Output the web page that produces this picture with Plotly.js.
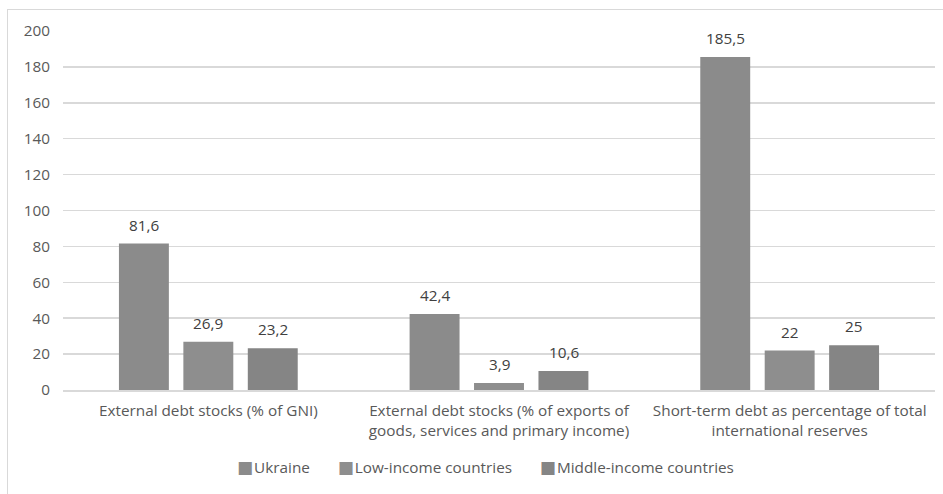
<!DOCTYPE html>
<html>
<head>
<meta charset="utf-8">
<script src="https://cdn.plot.ly/plotly-3.0.1.min.js"></script>
<style>
  html, body { margin: 0; padding: 0; background: #fff; }
  #wrap { position: relative; width: 943px; height: 494px; overflow: hidden; }
  #chart { width: 943px; height: 494px; }
  #frame { position: absolute; left: 7px; top: 9px; width: 945px; height: 495px; border: 1.5px solid #d9d9d9; pointer-events: none; box-sizing: border-box; }
</style>
</head>
<body>
<div id="wrap">
  <div id="chart"></div>
  <div id="frame"></div>
</div>
<script>
const categories = [
  "External debt stocks (% of GNI)",
  "External debt stocks (% of exports of<br>goods, services and primary income)",
  "Short-term debt as percentage of total<br>international reserves"
];
const seriesNames = ["Ukraine", "Low-income countries", "Middle-income countries"];
const ukraine = [81.6, 42.4, 185.5];
const lowIncome = [26.9, 3.9, 22];
const middleIncome = [23.2, 10.6, 25];
const seriesColors = ["#8b8b8b", "#8e8e8e", "#858585"];
const yTicks = [0, 20, 40, 60, 80, 100, 120, 140, 160, 180, 200];

const FONT = "Open Sans, sans-serif";
const FS = 15.3;
const fmt = v => String(v).replace(".", ",");
const allSeries = [ukraine, lowIncome, middleIncome];
const labelShift = [-64.5, 0, 64.5];

const traces = allSeries.map((vals, i) => ({
  type: "bar",
  name: seriesNames[i],
  x: categories,
  y: vals,
  marker: { color: seriesColors[i] },
  hoverinfo: "skip",
  showlegend: false
}));

const annotations = [];
allSeries.forEach((vals, i) => {
  vals.forEach((v, j) => {
    annotations.push({
      x: categories[j], y: v, xref: "x", yref: "y",
      text: fmt(v), showarrow: false,
      xshift: labelShift[i], yshift: 19,
      yanchor: "middle", xanchor: "center",
      font: { family: FONT, size: FS, color: "#404040" }
    });
  });
});

// legend row built from the series names and colours
const legendText = seriesNames.map((n, i) =>
  '<span style="color:' + seriesColors[i] + ';font-size:17px;font-family:DejaVu Sans">■</span>' +
  '<span style="font-size:4px">&nbsp;</span>' + n
).join('&nbsp;&nbsp;&nbsp;&nbsp;&nbsp;&nbsp;&nbsp;');
annotations.push({
  x: 0.485, y: -0.215, xref: "paper", yref: "paper",
  xanchor: "center", yanchor: "middle", showarrow: false,
  text: legendText,
  font: { family: FONT, size: FS, color: "#595959" }
});

const layout = {
  width: 943,
  height: 494,
  margin: { l: 63, r: 8, t: 31, b: 104 },
  paper_bgcolor: "#ffffff",
  plot_bgcolor: "#ffffff",
  font: { family: FONT, size: FS, color: "#595959" },
  barmode: "group",
  bargap: 0.335,
  bargroupgap: 0.225,
  showlegend: false,
  annotations: annotations,
  xaxis: {
    type: "category",
    showgrid: false,
    showline: true,
    linecolor: "#d9d9d9",
    linewidth: 1.5,
    ticks: "",
    ticklabelstandoff: 6,
    tickfont: { family: FONT, size: FS, color: "#595959" },
    automargin: false
  },
  yaxis: {
    range: [0, 200],
    tickvals: yTicks,
    ticktext: yTicks.map(String),
    showgrid: true,
    gridcolor: "#d9d9d9",
    gridwidth: 1.5,
    zeroline: false,
    showline: false,
    ticks: "",
    ticklabelstandoff: 12,
    tickfont: { family: FONT, size: FS, color: "#595959" },
    automargin: false
  }
};

Plotly.newPlot("chart", traces, layout, { displayModeBar: false, staticPlot: true });
</script>
</body>
</html>
